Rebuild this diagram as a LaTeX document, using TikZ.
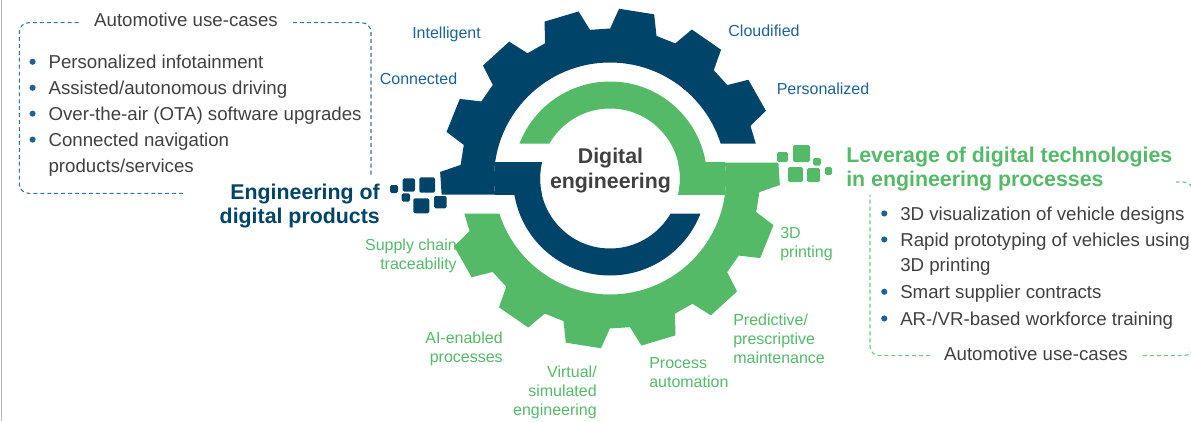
\documentclass[tikz,border=0pt]{standalone}
\usepackage{fontspec}
\setmainfont{Liberation Sans}
\usetikzlibrary{positioning}

\definecolor{gearblue}{RGB}{0,68,106}
\definecolor{geargreen}{RGB}{84,186,104}
\definecolor{labelblue}{RGB}{28,98,152}
\definecolor{frameblue}{RGB}{52,116,162}
\definecolor{framegreen}{RGB}{108,198,126}
\definecolor{bodygray}{RGB}{64,64,64}
\definecolor{edgegray}{RGB}{185,185,185}

\tikzset{
    gearlabel/.style={font=\fontsize{12}{14.25}\selectfont, inner sep=0pt},
    bluelabel/.style={gearlabel, text=labelblue},
    greenlabel/.style={gearlabel, text=geargreen},
    heading/.style={font=\fontsize{16}{18.5}\selectfont\bfseries, inner sep=0pt},
    usecase/.style={font=\fontsize{14}{19.4}\selectfont, text=bodygray, anchor=base west, inner sep=0pt},
    bullet/.style={circle, fill=labelblue, inner sep=0pt, minimum size=4.6pt},
    casebox/.style={line width=0.8pt, dash pattern=on 3pt off 2.2pt, rounded corners=7pt},
    boxtitle/.style={font=\fontsize{14}{16}\selectfont, text=bodygray, anchor=base, inner sep=0pt},
    pixel/.style={rounded corners=1.2pt}
}

% tooth outline of the big gear (14 teeth)
\newcommand{\gearoutline}{%
  (-5.2:150) \foreach \k in {0,...,13}{
    -- ({3.8+25.714*\k-9}:150) -- ({3.8+25.714*\k-6}:170)
    -- ({3.8+25.714*\k+6}:170) -- ({3.8+25.714*\k+9}:150)
  } -- cycle}

% one half of the split gear: rim, link and inner ring
\newcommand{\halfgear}[1]{%
  \begin{scope}
    \clip (-180,-16) rectangle (0,180) (0,35) rectangle (180,180);
    \fill[#1, even odd rule] \gearoutline (0,0) circle[radius=116];
  \end{scope}
  \begin{scope}
    \clip (-180,-16) rectangle (0,16);
    \fill[#1, even odd rule] (0,0) circle[radius=116] (0,0) circle[radius=70];
  \end{scope}
  \begin{scope}
    \clip (-180,16) rectangle (0,-180) (0,-35) rectangle (180,-180);
    \fill[#1, even odd rule] (0,0) circle[radius=97] (0,0) circle[radius=70];
  \end{scope}}

\begin{document}
\begin{tikzpicture}[x=0.75pt, y=-0.75pt]
\useasboundingbox (0,0) rectangle (1191,421);

% page edge
\draw[edgegray, line width=1.1pt] (1.5,0) -- (1.5,421);

% Gear, blue top half and green bottom half
\begin{scope}[shift={(610,178.5)}, y=0.75pt]
  \halfgear{gearblue}
  \begin{scope}[rotate=180]
    \halfgear{geargreen}
  \end{scope}
\end{scope}
\node[heading, text=bodygray, align=center] (core) at (610.5,170.5) {Digital\\engineering};

% pixel bits next to the headings
\foreach \ax/\ay/\bx/\by in {390/185/398/193, 402.7/178.3/415/191.7, 419.3/177.3/435/192.7,
    401.7/193.3/410/201.7, 413.3/198.3/429.3/213.3, 434/196/446.7/208.3}
  \fill[gearblue, pixel] (\ax,\ay) rectangle (\bx,\by);
\foreach \ax/\ay/\bx/\by in {777/152/788/162, 793/145/810/162, 813/158/821/165.5,
    788/167/803/182, 807/168/820/182, 825/167/832/175}
  \fill[geargreen, pixel] (\ax,\ay) rectangle (\bx,\by);

% labels round the gear
\node[bluelabel] (intelligent) at (446.5,34) {Intelligent};
\node[bluelabel] (connected) at (418.5,79) {Connected};
\node[bluelabel] (cloudified) at (764,31) {Cloudified};
\node[bluelabel] (personalized) at (823,89) {Personalized};

\node[greenlabel, align=left, anchor=west] (printing) at (780,244.5) {3D\\printing};
\node[greenlabel, align=right, anchor=east] (supply) at (457,255.5) {Supply chain\\traceability};
\node[greenlabel, align=right, anchor=east] (aienabled) at (503,349) {AI-enabled\\processes};
\node[greenlabel, align=right, anchor=east] (virtual) at (597,392) {Virtual/\\simulated\\engineering};
\node[greenlabel, align=left, anchor=west] (automation) at (649,372.5) {Process\\automation};
\node[greenlabel, align=left, anchor=west] (predictive) at (733,339) {Predictive/\\prescriptive\\maintenance};

% headings
\node[heading, text=gearblue, align=right, anchor=east] (digiproducts) at (380,206) {Engineering of\\digital products};
\node[heading, text=geargreen, align=left, anchor=west] (digitech) at (846,169) {Leverage of digital technologies\\in engineering processes};

% use-case box, left
\draw[casebox, frameblue] (183,193.3) -- (19.3,193.3) -- (19.3,22.7) -- (80,22.7);
\draw[casebox, frameblue] (293,22.7) -- (371,22.7) -- (371,176.7);
\node[boxtitle] (lefttitle) at (186,26.7) {Automotive use-cases};
\foreach \y/\txt [count=\i] in {68.3/{Personalized infotainment}, 94.3/{Assisted/autonomous driving},
    120.2/{Over-the-air (OTA) software upgrades}, 146.1/{Connected navigation}}{
  \node[usecase] (left\i) at (48.3,\y) {\txt};
  \node[bullet] (leftdot\i) at ([xshift=-11.8pt, yshift=4.9pt]left\i.base west) {};
}
\node[usecase] (leftwrap) at (48.3,172) {products/services};

% use-case box, right
\draw[casebox, framegreen] (930,355.7) -- (870,355.7) -- (870,195);
\draw[casebox, framegreen] (1143,355.7) -- (1193,355.7) -- (1193,182) -- (1176,182);
\node[boxtitle] (righttitle) at (1036,360) {Automotive use-cases};
\foreach \y/\txt [count=\i] in {220/{3D visualization of vehicle designs}, 246/{Rapid prototyping of vehicles using},
    298.3/{Smart supplier contracts}, 325/{AR-/VR-based workforce training}}{
  \node[usecase] (right\i) at (900,\y) {\txt};
  \node[bullet] (rightdot\i) at ([xshift=-11.8pt, yshift=4.9pt]right\i.base west) {};
}
\node[usecase] (rightwrap) at (900,271.7) {3D printing};

\end{tikzpicture}
\end{document}
